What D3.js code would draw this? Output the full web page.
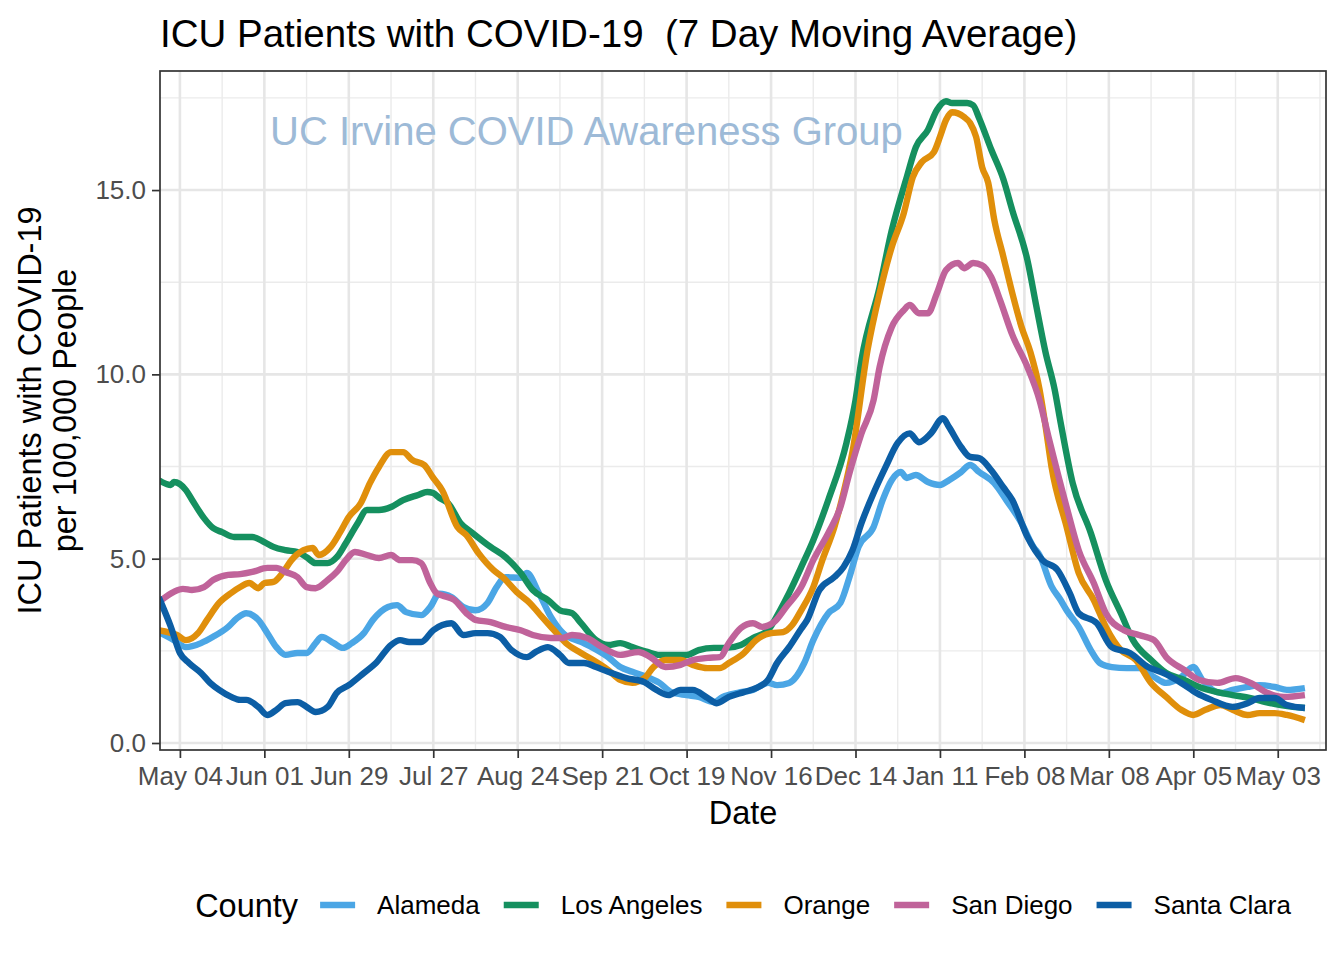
<!DOCTYPE html>
<html><head><meta charset="utf-8">
<script src="https://cdn.jsdelivr.net/npm/d3@7"></script>
<style>
body{margin:0;background:#fff}
text{font-family:"Liberation Sans",Arial,Helvetica,sans-serif}
</style>
</head><body>
<svg id="chart" width="1344" height="960"></svg>
<script>
// ---- data (x = days after 2020-05-04, y = ICU patients per 100,000) ----
const countyNames = ["Alameda","Los Angeles","Orange","San Diego","Santa Clara"];
const countyColors = ["#4BA6E5","#15905F","#E08F0B","#C0639A","#0C5EA5"];

const alamedaDays = [-7,-2,2,7,11,16,19,22,26,29,32,35,39,42,45,47,51,54,57,61,64,69,72,75,80,83,86,90,94,98,102,105,108,113,115,119,123,127,133,137,142,146,150,155,159,163,168,172,177,180,185,190,195,198,202,207,210,215,219,222,225,230,233,236,239,241,244,248,252,255,259,262,265,270,274,279,283,285,289,292,294,298,302,305,309,314,318,323,327,332,336,339,345,349,354,358,363,367,373];
const alamedaValues = [3.01,2.79,2.6,2.71,2.88,3.15,3.39,3.52,3.34,2.98,2.6,2.39,2.44,2.44,2.71,2.88,2.71,2.58,2.71,2.98,3.34,3.69,3.74,3.55,3.47,3.69,4.05,3.96,3.69,3.6,3.8,4.23,4.5,4.48,4.61,4.07,3.42,2.98,2.74,2.58,2.33,2.06,1.93,1.79,1.63,1.38,1.3,1.25,1.11,1.25,1.36,1.44,1.63,1.57,1.63,2.17,2.79,3.52,3.8,4.5,5.32,5.86,6.59,7.13,7.35,7.19,7.27,7.08,7.0,7.13,7.35,7.54,7.35,7.05,6.59,5.97,5.32,5.1,4.25,3.88,3.6,3.15,2.52,2.17,2.06,2.03,2.03,1.79,1.63,1.79,2.06,1.71,1.36,1.44,1.52,1.57,1.52,1.44,1.49];

const losAngelesDays = [-7,-3,-2,2,4,8,11,14,18,21,24,28,31,35,39,42,45,49,52,55,59,62,66,70,74,79,82,84,86,89,93,97,103,108,113,117,122,126,130,133,138,142,146,150,155,159,163,168,172,177,181,186,190,195,199,202,206,210,215,221,224,226,232,236,241,244,248,251,254,256,261,263,265,269,273,276,281,284,287,290,292,296,302,307,312,316,322,327,333,338,344,349,355,360,365,369,373];
const losAngelesValues = [7.13,7.0,7.08,6.86,6.6,6.1,5.83,5.72,5.59,5.59,5.59,5.45,5.32,5.23,5.18,5.04,4.88,4.88,5.04,5.42,5.97,6.32,6.32,6.4,6.59,6.73,6.81,6.78,6.65,6.5,5.97,5.7,5.32,5.04,4.61,4.15,3.88,3.6,3.52,3.25,2.79,2.66,2.71,2.6,2.47,2.39,2.39,2.39,2.52,2.58,2.58,2.66,2.85,3.06,3.6,4.07,4.77,5.5,6.6,8.14,9.3,10.4,12.37,13.9,15.35,16.16,16.63,17.17,17.41,17.36,17.36,17.3,16.95,16.1,15.3,14.45,13.1,11.83,10.6,9.6,8.7,7.05,5.7,4.42,3.52,2.79,2.25,1.9,1.71,1.52,1.38,1.3,1.22,1.11,1.03,0.98,0.95];

const orangeDays = [-7,-1,2,6,9,13,17,20,23,26,28,31,34,37,41,44,46,50,53,56,60,63,66,70,74,77,81,84,87,92,95,99,104,107,112,116,119,124,128,133,137,142,146,150,154,157,161,166,170,175,179,182,187,191,196,200,203,206,210,213,217,220,223,228,232,236,240,243,246,250,252,254,256,260,262,264,266,268,270,273,276,279,282,285,287,289,294,298,303,307,312,317,322,327,332,336,340,345,349,354,358,363,367,373];
const orangeValues = [3.06,2.93,2.79,2.98,3.34,3.8,4.07,4.23,4.34,4.2,4.34,4.37,4.61,4.96,5.23,5.29,5.1,5.32,5.7,6.13,6.51,7.05,7.49,7.89,7.89,7.68,7.54,7.19,6.85,5.86,5.64,5.15,4.69,4.5,4.07,3.8,3.52,3.06,2.71,2.44,2.25,1.98,1.71,1.63,1.76,2.06,2.25,2.25,2.12,2.03,2.03,2.17,2.44,2.79,2.98,3.01,3.2,3.6,4.23,4.96,5.86,6.78,7.9,10.66,12.2,13.45,14.37,15.35,15.76,16.03,16.44,16.9,17.11,16.98,16.82,16.44,15.62,15.2,14.2,13.2,12.2,11.3,10.6,9.6,8.6,7.49,5.86,4.61,3.88,3.15,2.52,2.25,1.63,1.25,0.9,0.76,0.9,1.03,0.9,0.76,0.81,0.81,0.76,0.62];

const sanDiegoDays = [-7,-2,1,4,8,11,16,20,24,29,32,35,39,42,45,49,52,55,58,62,66,70,73,77,80,83,85,87,91,95,98,103,108,113,117,123,127,130,135,140,146,152,156,161,166,170,175,179,182,186,190,193,197,201,206,210,215,219,222,226,230,232,236,240,242,245,248,251,254,258,260,263,266,269,272,276,281,285,288,294,298,303,307,313,318,323,327,333,338,344,350,355,360,366,373];
const sanDiegoValues = [3.82,4.1,4.18,4.15,4.23,4.42,4.56,4.58,4.64,4.75,4.75,4.64,4.5,4.23,4.2,4.42,4.64,4.96,5.18,5.1,5.02,5.1,4.96,4.96,4.88,4.34,4.07,4.0,3.88,3.52,3.34,3.28,3.15,3.06,2.93,2.85,2.85,2.93,2.85,2.6,2.39,2.47,2.33,2.06,2.12,2.25,2.31,2.33,2.71,3.12,3.25,3.15,3.28,3.69,4.23,4.96,5.7,6.4,7.32,8.4,9.3,10.2,11.28,11.74,11.88,11.66,11.66,12.2,12.83,13.02,12.88,13.02,12.96,12.64,12.0,11.07,10.2,9.3,8.3,6.4,5.23,4.34,3.52,3.06,2.93,2.79,2.33,1.98,1.71,1.63,1.76,1.63,1.38,1.25,1.3];

const santaClaraDays = [-7,-3,0,3,7,10,13,17,20,22,26,29,32,35,39,42,45,49,52,56,61,65,70,73,76,80,84,87,90,94,98,102,106,110,115,118,122,126,129,134,138,142,148,154,158,162,166,170,175,178,182,187,191,195,198,202,206,208,212,217,220,223,226,230,234,238,242,245,249,253,255,259,262,265,269,273,276,281,286,291,295,298,304,309,315,321,326,332,337,342,349,354,358,363,367,373];
const santaClaraValues = [3.95,3.15,2.44,2.17,1.9,1.63,1.44,1.25,1.17,1.17,0.98,0.76,0.9,1.08,1.11,0.98,0.84,0.98,1.36,1.57,1.9,2.17,2.66,2.79,2.74,2.74,3.06,3.2,3.25,2.93,2.98,2.98,2.88,2.52,2.33,2.47,2.6,2.39,2.17,2.17,2.06,1.93,1.76,1.65,1.44,1.3,1.44,1.44,1.22,1.08,1.25,1.38,1.49,1.71,2.17,2.6,3.1,3.34,4.15,4.5,4.77,5.23,5.97,6.78,7.49,8.14,8.4,8.16,8.4,8.81,8.57,8.03,7.76,7.73,7.4,6.94,6.59,5.59,4.96,4.69,4.07,3.52,3.25,2.6,2.44,2.06,1.9,1.63,1.36,1.17,0.98,1.08,1.22,1.22,1.03,0.95];

const xMajorDays = [0,28,56,84,112,140,168,196,224,252,280,308,336,364];
const xMinorDays = [14,42,70,98,126,154,182,210,238,266,294,322,350,378];
const yMajorTicks = [0,5,10,15];
const yMinorTicks = [2.5,7.5,12.5,17.5];

const titleText = "ICU Patients with COVID-19  (7 Day Moving Average)";
const watermarkText = "UC Irvine COVID Awareness Group";
const xTitle = "Date";
const yTitleLines = ["ICU Patients with COVID-19","per 100,000 People"];
const legendTitle = "County";

// ---- build ----
const daysList = [alamedaDays, losAngelesDays, orangeDays, sanDiegoDays, santaClaraDays];
const valuesList = [alamedaValues, losAngelesValues, orangeValues, sanDiegoValues, santaClaraValues];
const baseDate = Date.UTC(2020,4,4);
const toDate = d => new Date(baseDate + d*864e5);

const series = countyNames.map((name,i) => ({
  name, color: countyColors[i],
  points: daysList[i].map((d,j) => ({date: toDate(d), value: valuesList[i][j]}))
}));

const panel = {left:160, right:1326, top:71, bottom:750};
const svg = d3.select("#chart");
svg.append("rect").attr("width",1344).attr("height",960).attr("fill","#fff");

const x = d3.scaleUtc().domain([toDate(-6.6), toDate(380)]).range([panel.left, panel.right]);
const y = d3.scaleLinear().domain([-0.19, 18.23]).range([panel.bottom, panel.top]);

const grid = svg.append("g");
grid.selectAll(".ymin").data(yMinorTicks).join("line")
  .attr("x1",panel.left).attr("x2",panel.right).attr("y1",d=>y(d)).attr("y2",d=>y(d))
  .attr("stroke","#EBEBEB").attr("stroke-width",1.4);
grid.selectAll(".xmin").data(xMinorDays).join("line")
  .attr("y1",panel.top).attr("y2",panel.bottom).attr("x1",d=>x(toDate(d))).attr("x2",d=>x(toDate(d)))
  .attr("stroke","#EBEBEB").attr("stroke-width",1.4);
grid.selectAll(".ymaj").data(yMajorTicks).join("line")
  .attr("x1",panel.left).attr("x2",panel.right).attr("y1",d=>y(d)).attr("y2",d=>y(d))
  .attr("stroke","#E6E6E6").attr("stroke-width",2.6);
grid.selectAll(".xmaj").data(xMajorDays).join("line")
  .attr("y1",panel.top).attr("y2",panel.bottom).attr("x1",d=>x(toDate(d))).attr("x2",d=>x(toDate(d)))
  .attr("stroke","#E6E6E6").attr("stroke-width",2.6);

svg.append("clipPath").attr("id","clip").append("rect")
  .attr("x",panel.left).attr("y",panel.top).attr("width",panel.right-panel.left).attr("height",panel.bottom-panel.top);

const line = d3.line().x(d=>x(d.date)).y(d=>y(d.value)).curve(d3.curveMonotoneX);
svg.append("g").attr("clip-path","url(#clip)").selectAll("path").data(series).join("path")
  .attr("d",d=>line(d.points)).attr("fill","none").attr("stroke",d=>d.color)
  .attr("stroke-width",6.4).attr("stroke-linejoin","round").attr("stroke-linecap","butt");

// panel border
svg.append("rect").attr("x",panel.left).attr("y",panel.top)
  .attr("width",panel.right-panel.left).attr("height",panel.bottom-panel.top)
  .attr("fill","none").attr("stroke","#333").attr("stroke-width",1.7);

// axes
const xAxis = d3.axisBottom(x).tickValues(xMajorDays.map(toDate))
  .tickFormat(d3.utcFormat("%b %d")).tickSize(8).tickPadding(9);
const gx = svg.append("g").attr("transform",`translate(0,${panel.bottom})`).call(xAxis);
const yAxis = d3.axisLeft(y).tickValues(yMajorTicks).tickFormat(d3.format(".1f")).tickSize(8).tickPadding(6);
const gy = svg.append("g").attr("transform",`translate(${panel.left},0)`).call(yAxis);
[gx,gy].forEach(g=>{
  g.select(".domain").remove();
  g.selectAll(".tick line").attr("stroke","#333").attr("stroke-width",1.7);
  g.selectAll(".tick text").attr("fill","#4D4D4D").style("font-size","26px")
   .style("font-family",'"Liberation Sans",Arial,sans-serif');
});

// titles
svg.append("text").attr("x",160).attr("y",47).style("font-size","38.5px").style("white-space","pre")
  .attr("xml:space","preserve").attr("fill","#000").text(titleText);
svg.append("text").attr("x",270).attr("y",145).style("font-size","40px").attr("fill","#9DBAD7").text(watermarkText);
svg.append("text").attr("x",(panel.left+panel.right)/2).attr("y",824).attr("text-anchor","middle")
  .style("font-size","32.5px").attr("fill","#000").text(xTitle);
const yc = (panel.top+panel.bottom)/2;
svg.append("text").attr("transform",`translate(41,${yc}) rotate(-90)`).attr("text-anchor","middle")
  .style("font-size","32.5px").attr("fill","#000").text(yTitleLines[0]);
svg.append("text").attr("transform",`translate(76,${yc}) rotate(-90)`).attr("text-anchor","middle")
  .style("font-size","32.5px").attr("fill","#000").text(yTitleLines[1]);

// legend
const lg = svg.append("g");
const legY = 905;
const lt = lg.append("text").attr("y",legY+11.5).style("font-size","32.5px").attr("fill","#000").text(legendTitle);
const items = series.map(s => {
  const key = lg.append("line").attr("stroke",s.color).attr("stroke-width",6.4).attr("y1",legY).attr("y2",legY);
  const lab = lg.append("text").attr("y",legY+9.3).style("font-size","26px").attr("fill","#000").text(s.name);
  return {key, lab, w: lab.node().getComputedTextLength()};
});
const keyW = 35, gapTitle = 22, gapKey = 22, gapItem = 24;
let total = lt.node().getComputedTextLength() + gapTitle;
items.forEach((it,i)=>{ total += keyW + gapKey + it.w + (i<items.length-1?gapItem:0); });
let cx = (panel.left+panel.right)/2 - total/2;
lt.attr("x",cx); cx += lt.node().getComputedTextLength() + gapTitle;
items.forEach(it=>{
  it.key.attr("x1",cx).attr("x2",cx+keyW); cx += keyW + gapKey;
  it.lab.attr("x",cx); cx += it.w + gapItem;
});
</script>
</body></html>
